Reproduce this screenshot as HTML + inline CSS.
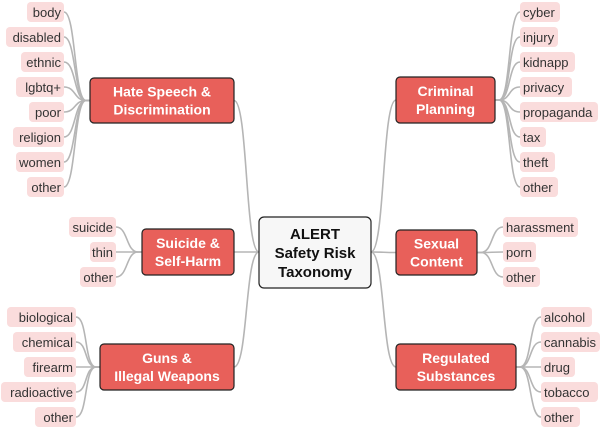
<!DOCTYPE html>
<html><head><meta charset="utf-8"><style>
body{margin:0;width:602px;height:428px;background:#fff;overflow:hidden;font-family:"Liberation Sans",sans-serif}
</style></head><body>
<svg width="602" height="428" xmlns="http://www.w3.org/2000/svg" font-family="Liberation Sans, sans-serif">
<g fill="none" stroke="#b5b5b5" stroke-width="1.6" id="lines"></g>
<g id="shapes"></g>
</svg>
<script>
const L=document.getElementById('lines'),S=document.getElementById('shapes');
const ns="http://www.w3.org/2000/svg";
function el(p,t,a,txt){const e=document.createElementNS(ns,t);for(const k in a)e.setAttribute(k,a[k]);if(txt)e.textContent=txt;p.appendChild(e);return e}
function path(d){el(L,'path',{d})}
function leaf(x1,x2,yc,t,anchor){el(S,'rect',{x:x1,y:yc-10,width:x2-x1,height:20,rx:4,fill:'#fadcdc'});
 el(S,'text',{x:anchor=='end'?x2-3:x1+3,y:yc+5,'font-size':13,fill:'#333','text-anchor':anchor},t)}
function node(x1,y1,x2,y2,lines){el(S,'rect',{x:x1,y:y1,width:x2-x1,height:y2-y1,rx:4,fill:'#e8605a',stroke:'#222','stroke-width':1.2});
 const cy=(y1+y2)/2, cx=(x1+x2)/2; lines.forEach((t,i)=>el(S,'text',{x:cx,y:cy+5+(i-(lines.length-1)/2)*18,'font-size':14,'font-weight':'bold',fill:'#fff','text-anchor':'middle'},t))}
const C={x1:259,y1:217,x2:371,y2:288,cy:252};
function leftGroup(n,leaves,rightX,y0){const ny=(n[1]+n[3])/2;
 path(`M${n[2]},${ny} C${n[2]+14},${ny} ${C.x1-14},${C.cy} ${C.x1},${C.cy}`);
 leaves.forEach((l,i)=>{const y=y0+25*i;path(`M${n[0]},${ny} L${n[0]-4},${ny} C${n[0]-16},${ny} ${rightX+12},${y} ${rightX},${y}`);leaf(l[1],rightX,y,l[0],'end')});
 node(n[0],n[1],n[2],n[3],n[4])}
function rightGroup(n,leaves,leftX,y0){const ny=(n[1]+n[3])/2;
 path(`M${C.x2},${C.cy} C${C.x2+14},${C.cy} ${n[0]-14},${ny} ${n[0]},${ny}`);
 leaves.forEach((l,i)=>{const y=y0+25*i;path(`M${n[2]},${ny} L${n[2]+4},${ny} C${n[2]+16},${ny} ${leftX-12},${y} ${leftX},${y}`);leaf(leftX,l[1],y,l[0],'start')});
 node(n[0],n[1],n[2],n[3],n[4])}
leftGroup([90,78,234,123,['Hate Speech &','Discrimination']],[['body',27],['disabled',6],['ethnic',21],['lgbtq+',16],['poor',29],['religion',13],['women',16],['other',27]],64,12);
leftGroup([142,229,234,275,['Suicide &','Self-Harm']],[['suicide',69],['thin',90],['other',80]],116,227);
leftGroup([100,344,234,390,['Guns &','Illegal Weapons']],[['biological',7],['chemical',13],['firearm',24],['radioactive',1],['other',35]],76,317);
rightGroup([396,77,495,123,['Criminal','Planning']],[['cyber',560],['injury',558],['kidnapp',575],['privacy',572],['propaganda',598],['tax',546],['theft',555],['other',558]],520,12);
rightGroup([396,230,477,275,['Sexual','Content']],[['harassment',578],['porn',536],['other',540]],503,227);
rightGroup([396,344,516,390,['Regulated','Substances']],[['alcohol',592],['cannabis',600],['drug',575],['tobacco',598],['other',580]],541,317);
el(S,'rect',{x:259,y:217,width:112,height:71,rx:5,fill:'#f7f7f7',stroke:'#222','stroke-width':1.2});
['ALERT','Safety Risk','Taxonomy'].forEach((t,i)=>el(S,'text',{x:315,y:258+(i-1)*19,'font-size':15,'font-weight':'bold',fill:'#111','text-anchor':'middle'},t));
</script>
</body></html>
